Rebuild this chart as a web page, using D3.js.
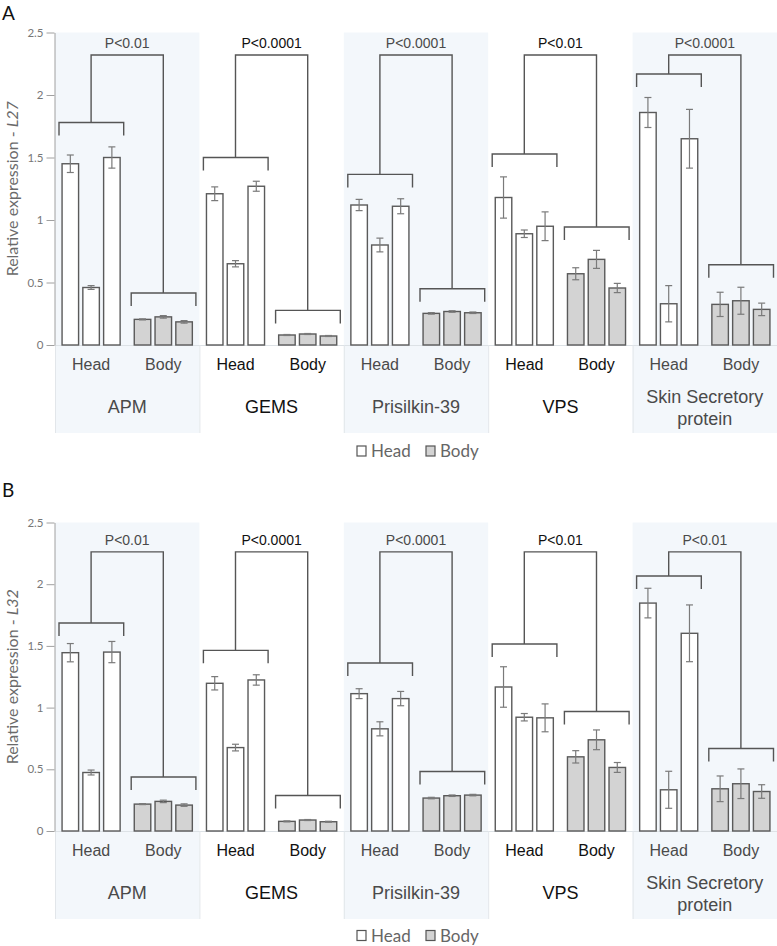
<!DOCTYPE html>
<html>
<head>
<meta charset="utf-8">
<script src="https://cdn.jsdelivr.net/npm/d3@7"></script>
<style>
html,body{margin:0;padding:0;background:#fff;}
svg{display:block;}
</style>
</head>
<body>
<svg id="chart" width="777" height="946"></svg>
<script>
// ---------- data ----------
const genes = ["APM", "GEMS", "Prisilkin-39", "VPS", "Skin Secretory protein"];
const geneLines = [["APM"], ["GEMS"], ["Prisilkin-39"], ["VPS"], ["Skin Secretory", "protein"]];
const tissues = ["Head", "Body"];
const reps = [0, 1, 2];
const yTicks = [0, 0.5, 1, 1.5, 2, 2.5];

// Panel A (L27)
const headA = [[1.45, 0.46, 1.50], [1.21, 0.65, 1.27], [1.12, 0.80, 1.11], [1.18, 0.89, 0.95], [1.86, 0.33, 1.65]];
const headErrA = [[0.07, 0.015, 0.085], [0.055, 0.025, 0.04], [0.045, 0.055, 0.06], [0.165, 0.03, 0.115], [0.12, 0.145, 0.235]];
const bodyA = [[0.205, 0.225, 0.185], [0.08, 0.088, 0.072], [0.253, 0.268, 0.258], [0.57, 0.685, 0.456], [0.325, 0.354, 0.285]];
const bodyErrA = [[0.004, 0.01, 0.01], [0.004, 0.004, 0.004], [0.006, 0.006, 0.006], [0.048, 0.072, 0.037], [0.097, 0.108, 0.05]];
const headBracketA = [1.78, 1.50, 1.365, 1.528, 2.168];
const bodyBracketA = [0.416, 0.277, 0.45, 0.944, 0.642];
const topBracketA = 2.32;
const pA = ["P<0.01", "P<0.0001", "P<0.0001", "P<0.01", "P<0.0001"];

// Panel B (L32)
const headB = [[1.445, 0.474, 1.45], [1.197, 0.676, 1.224], [1.113, 0.828, 1.073], [1.167, 0.922, 0.917], [1.847, 0.334, 1.602]];
const headErrB = [[0.074, 0.02, 0.086], [0.054, 0.027, 0.042], [0.04, 0.057, 0.058], [0.164, 0.03, 0.113], [0.12, 0.15, 0.23]];
const bodyB = [[0.218, 0.24, 0.21], [0.078, 0.089, 0.075], [0.267, 0.286, 0.291], [0.601, 0.739, 0.515], [0.342, 0.383, 0.32]];
const bodyErrB = [[0.004, 0.01, 0.01], [0.004, 0.004, 0.004], [0.006, 0.006, 0.006], [0.05, 0.08, 0.04], [0.104, 0.12, 0.055]];
const headBracketB = [1.685, 1.464, 1.362, 1.515, 2.066];
const bodyBracketB = [0.437, 0.288, 0.482, 0.968, 0.668];
const topBracketB = 2.262;
const pB = ["P<0.01", "P<0.0001", "P<0.0001", "P<0.01", "P<0.01"];

// ---------- drawing ----------
const svg = d3.select("#chart");
const plotLeft = 55, plotRight = 777;
const x0 = d3.scaleBand().domain(genes).range([plotLeft, plotRight]).padding(0);
const x1 = d3.scaleBand().domain(tissues).range([0, x0.bandwidth()]);
const x2 = d3.scaleBand().domain(reps).range([0, x1.bandwidth()]).paddingInner(0.205).paddingOuter(0.34);

const shade = "#f3f7fb";
const barStroke = "#5a5a5a";
const errColor = "#7a7a7a";
const bracketColor = "#555";
const armLen = 13;
const serif = "'Liberation Sans', Arial, sans-serif";
const soft = "Lato, 'Open Sans', sans-serif";

function drawPanel(cfg) {
  const g = svg.append("g");
  const y = d3.scaleLinear().domain([0, 2.5]).range([cfg.base, cfg.top]);
  const labelH = 88;

  // backgrounds
  genes.forEach((gn, i) => {
    if (i % 2 === 0) {
      g.append("rect").attr("x", x0(gn)).attr("y", y(2.5))
        .attr("width", x0.bandwidth()).attr("height", cfg.base - y(2.5) + labelH)
        .attr("fill", shade);
    }
  });
  // label box lines
  g.append("line").attr("x1", plotLeft).attr("x2", plotRight)
    .attr("y1", cfg.base + 0.5).attr("y2", cfg.base + 0.5)
    .attr("stroke", "#dde2e6").attr("stroke-width", 1);
  genes.forEach((gn) => {
    g.append("line").attr("x1", x0(gn) + 0.5).attr("x2", x0(gn) + 0.5)
      .attr("y1", cfg.base).attr("y2", cfg.base + labelH)
      .attr("stroke", "#e2e6ea").attr("stroke-width", 1);
  });

  // axis
  const axis = d3.axisLeft(y).tickValues(yTicks).tickSize(8).tickSizeOuter(0)
    .tickFormat(d3.format("~g"));
  const ag = g.append("g").attr("transform", `translate(${plotLeft - 0.5},0)`).call(axis);
  ag.select(".domain").attr("stroke", "#a0a0a0");
  ag.selectAll(".tick line").attr("stroke", "#a0a0a0");
  ag.selectAll(".tick text").attr("fill", "#777").attr("font-size", 11.5)
    .attr("font-family", soft).attr("x", -11);

  // axis title
  const tt = g.append("text")
    .attr("transform", `translate(18,${(cfg.top + cfg.base) / 2}) rotate(-90)`)
    .attr("text-anchor", "middle").attr("fill", "#6a6a6a")
    .attr("font-family", soft).attr("font-size", 16);
  tt.append("tspan").text("Relative expression - ");
  tt.append("tspan").attr("font-style", "italic").text(cfg.ref);

  // panel letter
  g.append("text").attr("x", 2).attr("y", cfg.letterY).text(cfg.letter)
    .attr("font-family", soft).attr("font-size", 19).attr("fill", "#111");

  genes.forEach((gn, gi) => {
    const txtColor = gi % 2 === 0 ? "#4a4a4a" : "#111";
    const sets = [
      {t: "Head", vals: cfg.head[gi], errs: cfg.headErr[gi], fill: "#ffffff"},
      {t: "Body", vals: cfg.body[gi], errs: cfg.bodyErr[gi], fill: "#d3d3d3"}
    ];
    sets.forEach(s => {
      const sx = x0(gn) + x1(s.t);
      reps.forEach(r => {
        const bx = sx + x2(r);
        const v = s.vals[r];
        g.append("rect").attr("x", bx).attr("y", y(v))
          .attr("width", x2.bandwidth()).attr("height", y(0) - y(v))
          .attr("fill", s.fill).attr("stroke", barStroke).attr("stroke-width", 1.4);
        const cx = bx + x2.bandwidth() / 2;
        const e = s.errs[r];
        const eg = g.append("g").attr("stroke", errColor).attr("stroke-width", 1.2);
        eg.append("line").attr("x1", cx).attr("x2", cx).attr("y1", y(v - e)).attr("y2", y(v + e));
        eg.append("line").attr("x1", cx - 3.5).attr("x2", cx + 3.5).attr("y1", y(v + e)).attr("y2", y(v + e));
        eg.append("line").attr("x1", cx - 3.5).attr("x2", cx + 3.5).attr("y1", y(v - e)).attr("y2", y(v - e));
      });
      // tissue label
      g.append("text").attr("x", sx + x1.bandwidth() / 2).attr("y", cfg.base + 25)
        .attr("text-anchor", "middle").attr("font-family", serif).attr("font-size", 16)
        .attr("fill", txtColor).text(s.t);
    });

    // gene label
    const lines = geneLines[gi];
    const gx = x0(gn) + x0.bandwidth() / 2;
    const gt = g.append("text").attr("text-anchor", "middle").attr("font-family", serif)
      .attr("font-size", 18).attr("fill", txtColor);
    if (lines.length === 1) {
      gt.append("tspan").attr("x", gx).attr("y", cfg.base + 68).text(lines[0]);
    } else {
      gt.append("tspan").attr("x", gx).attr("y", cfg.base + 58).text(lines[0]);
      gt.append("tspan").attr("x", gx).attr("y", cfg.base + 80).text(lines[1]);
    }

    // brackets
    const hx0 = x0(gn) + x1("Head") + 4, hx1 = x0(gn) + x1("Head") + x1.bandwidth() - 3.5;
    const bx0 = x0(gn) + x1("Body") + 4, bx1 = x0(gn) + x1("Body") + x1.bandwidth() - 3.5;
    const hc = x0(gn) + x1("Head") + x1.bandwidth() / 2;
    const bc = x0(gn) + x1("Body") + x1.bandwidth() / 2;
    const hy = y(cfg.headBracket[gi]), by = y(cfg.bodyBracket[gi]), ty = y(cfg.topBracket);
    const path = d3.path();
    path.moveTo(hx0, hy + armLen); path.lineTo(hx0, hy); path.lineTo(hx1, hy); path.lineTo(hx1, hy + armLen);
    path.moveTo(bx0, by + armLen); path.lineTo(bx0, by); path.lineTo(bx1, by); path.lineTo(bx1, by + armLen);
    path.moveTo(hc, hy); path.lineTo(hc, ty); path.lineTo(bc, ty); path.lineTo(bc, by);
    g.append("path").attr("d", path.toString()).attr("fill", "none")
      .attr("stroke", bracketColor).attr("stroke-width", 1.4);
    g.append("text").attr("x", (hc + bc) / 2).attr("y", ty - 7)
      .attr("text-anchor", "middle").attr("font-family", serif).attr("font-size", 14)
      .attr("fill", txtColor).text(cfg.p[gi]);
  });

  // legend
  const ly = cfg.base + cfg.legendDy;
  const leg = [{t: "Head", fill: "#fff", x: 357}, {t: "Body", fill: "#d3d3d3", x: 426}];
  leg.forEach(l => {
    g.append("rect").attr("x", l.x).attr("y", ly - 5).attr("width", 9).attr("height", 10)
      .attr("fill", l.fill).attr("stroke", "#555").attr("stroke-width", 1.2);
    g.append("text").attr("x", l.x + 14).attr("y", ly + 6).attr("font-family", soft)
      .attr("font-size", 17).attr("fill", "#666").text(l.t);
  });
}

drawPanel({top: 32.5, base: 345, ref: "L27", letter: "A", letterY: 20,
  head: headA, headErr: headErrA, body: bodyA, bodyErr: bodyErrA,
  headBracket: headBracketA, bodyBracket: bodyBracketA, topBracket: topBracketA, p: pA, legendDy: 106});
drawPanel({top: 522.5, base: 831, ref: "L32", letter: "B", letterY: 497,
  head: headB, headErr: headErrB, body: bodyB, bodyErr: bodyErrB,
  headBracket: headBracketB, bodyBracket: bodyBracketB, topBracket: topBracketB, p: pB, legendDy: 104.5});
</script>
</body>
</html>
